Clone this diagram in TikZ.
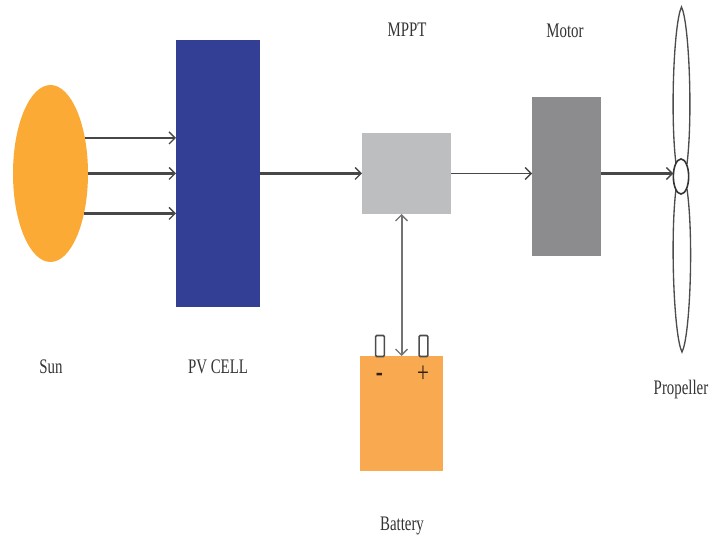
\documentclass[tikz,border=0pt]{standalone}
\usepackage{fontspec}
\setmainfont[FakeStretch=0.72]{Liberation Serif}
\usetikzlibrary{shapes.geometric,arrows.meta}
\definecolor{sunorange}{HTML}{FBAB35}
\definecolor{pvblue}{HTML}{323F94}
\definecolor{mpptgrey}{HTML}{BCBEC0}
\definecolor{motorgrey}{HTML}{8C8C8E}
\definecolor{battorange}{HTML}{F9A94F}
\definecolor{wiredark}{HTML}{474747}
\tikzset{
  block/.style={rectangle,inner sep=0pt,outer sep=0pt},
  wire/.style={draw=wiredark,line width=1.8pt,-{Straight Barb[length=4.5pt,width=9pt,line width=1pt]}},
  blade/.style={draw=black!70,line width=1pt},
  lbl/.style={inner sep=0.75pt,font=\fontsize{15.5}{18}\selectfont,text=black!80},
  terminal/.style={block,draw=black!70,line width=1.2pt,fill=white,rounded corners=0.8pt},
}
\begin{document}
\begin{tikzpicture}[x=0.75pt,y=0.75pt,yscale=-1]
    \useasboundingbox (0,0) rectangle (718,541);

    %Shapes
    \node [ellipse,fill=sunorange,inner sep=0pt,outer sep=0pt,minimum width=56.25pt,minimum height=132.75pt] (sun) at (50.5,173.5) {};
    \node [block,fill=pvblue,minimum width=63pt,minimum height=200.25pt] (pv) at (218,173.5) {};
    \node [block,fill=mpptgrey,minimum width=66.75pt,minimum height=60.75pt] (mppt) at (406.5,173.5) {};
    \node [block,fill=motorgrey,minimum width=51.75pt,minimum height=119.25pt] (motor) at (566.5,176.5) {};
    \node [block,fill=battorange,minimum width=62.25pt,minimum height=86.25pt] (battery) at (401.5,413.5) {};
    \node [terminal,minimum width=6.5pt,minimum height=15.75pt] (minus) at (380,346) {};
    \node [terminal,minimum width=6.5pt,minimum height=15.75pt] (plus) at (423.5,346) {};

    %Propeller
    \draw [blade] (676,164) .. controls (670,115) and (674,22) .. (681.5,7) .. controls (689,22) and (693,115) .. (687,164);
    \draw [blade] (676,189) .. controls (670,238) and (674,337) .. (682,352) .. controls (690,337) and (694,238) .. (687,189);
    \node [ellipse,draw=black!80,line width=1.2pt,fill=white,inner sep=0pt,outer sep=0pt,minimum width=11.5pt,minimum height=26.25pt] (hub) at (681,176.5) {};

    %Straight Lines
    \draw [wire] (sun.46) -- (sun.46 -| pv.west);
    \draw [wire] (sun.east) -- (pv.west);
    \draw [wire] (sun.-50.6) -- (sun.-50.6 -| pv.west);
    \draw [wire] (pv.east) -- (mppt.west);
    \draw [wire,line width=1.3pt] (mppt.east) -- (mppt.east -| motor.west);
    \draw [wire] (mppt.east -| motor.east) -- (mppt.east -| hub.west);
    \draw [draw=black!55,line width=1.5pt,{Straight Barb[length=4.5pt,width=9pt,line width=1pt]}-{Straight Barb[length=4.5pt,width=9pt,line width=1pt]}] (battery.north |- mppt.south) -- (battery.north);

    % Text Node
    \node [lbl] (sunlabel) at (51,367) {Sun};
    % Text Node
    \node [lbl] (pvlabel) at (218,367) {PV CELL};
    % Text Node
    \node [lbl] (mpptlabel) at (407,30) {MPPT};
    % Text Node
    \node [lbl] (motorlabel) at (565,31) {Motor};
    % Text Node
    \node [lbl] (batterylabel) at (402,526) {Battery};
    % Text Node
    \node [lbl] (propellerlabel) at (681,390) {Propeller};
    % Text Node
    \node [lbl,font=\fontsize{22}{22}\selectfont\bfseries,text=black!75!brown] (minussign) at (379.5,377) {-};
    % Text Node
    \node [lbl,font=\fontsize{22}{22}\selectfont,text=black!75!brown] (plussign) at (423,374) {+};
\end{tikzpicture}
\end{document}
